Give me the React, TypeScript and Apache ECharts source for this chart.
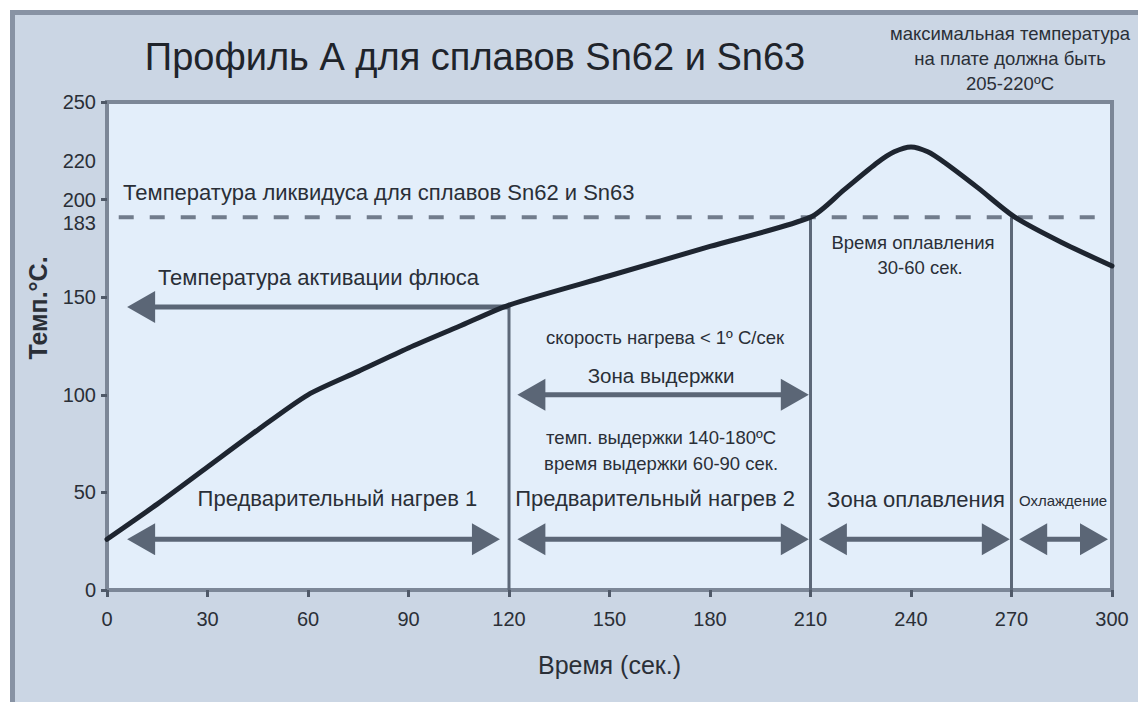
import React, { useEffect, useRef } from 'react';
import * as echarts from 'echarts';

// ---------- data ----------
const xLabelValues = [0, 30, 60, 90, 120, 150, 180, 210, 240, 270, 300];
const yLabelValues = [0, 50, 100, 150, 188, 200, 220, 250];
const yLabelTexts = ['0', '50', '100', '150', '183', '200', '220', '250'];

// temperature profile (time, s -> temperature, °C)
const profileTime = [0, 15, 30, 45, 60, 75, 90, 105, 120, 150, 180, 210, 220, 230, 235, 240, 245, 250, 260, 271, 285, 300];
const profileTemp = [26, 44, 63, 82, 100, 112, 124, 135, 146, 161, 176, 191, 205, 219, 224.5, 227, 224.5, 219, 206, 191, 178, 166];

// zone boundaries
const phaseTimes = [120, 210, 270];
const phaseTopTemps = [146, 191, 191];

// liquidus dashed line (as drawn)
const liquidusLevel = 191;
const liquidusFrom = 3.5;
const liquidusTo = 298;

// arrows
const arrowFrom = [6, 6, 122.5, 122.5, 212.5, 272.3];
const arrowTo = [120, 117.3, 209.5, 209.5, 269.5, 298.8];
const arrowTemp = [145, 26, 26, 100, 26, 26];
const arrowHeads = ['start', 'both', 'both', 'both', 'both', 'both'];

// annotations
const annotationTexts = [
  'Температура ликвидуса для сплавов Sn62 и Sn63',
  'Температура активации флюса',
  'скорость нагрева < 1º С/сек',
  'Зона выдержки',
  'темп. выдержки 140-180ºC',
  'время выдержки 60-90 сек.',
  'Предварительный нагрев 1',
  'Предварительный нагрев 2',
  'Зона оплавления',
  'Охлаждение',
  'Время оплавления',
  '30-60 сек.',
];
const annotationTime = [4.8, 15.2, 166.6, 165.4, 165.4, 165.4, 68.8, 163.6, 241.5, 285.4, 240.6, 242.7];
const annotationTemp = [203.6, 160.3, 129.6, 110, 77.9, 65, 47.1, 47.1, 46.6, 45.6, 178, 165];
const annotationAlign = ['left', 'left', 'center', 'center', 'center', 'center', 'center', 'center', 'center', 'center', 'center', 'center'];
const annotationKind = ['label', 'label', 'note', 'zone', 'note', 'note', 'label', 'label', 'label', 'tight', 'note', 'note'];

const titleText = 'Профиль А для сплавов Sn62 и Sn63';
const cornerNote = 'максимальная температура\nна плате должна быть\n205-220ºC';
const xName = 'Время (сек.)';
const yName = 'Темп.°C.';

// ---------- styles ----------
const FONT = '"Liberation Sans", Arial, Helvetica, sans-serif';
const TEXT = '#2a2f37';
const ARROW = '#5b6676';
const TICK = '#4f5968';
const kindSize: Record<string, number> = { label: 22, note: 18.5, zone: 20.5, tight: 15 };

export default function App() {
  const ref = useRef<HTMLDivElement>(null);

  useEffect(() => {
    if (!ref.current) return;
    const chart = echarts.init(ref.current, null, { renderer: 'svg' });

    const option: any = {
      animation: false,
      backgroundColor: '#ffffff',
      grid: {
        left: 107,
        right: 26,
        top: 102,
        bottom: 112,
        show: true,
        backgroundColor: '#e3eefa',
        borderColor: '#7c8797',
        borderWidth: 4,
      },
      xAxis: {
        type: 'value',
        min: 0,
        max: 300,
        interval: 30,
        name: xName,
        nameLocation: 'middle',
        nameGap: 62,
        nameTextStyle: { fontFamily: FONT, fontSize: 25, color: TEXT },
        axisLine: { show: true, lineStyle: { color: '#7c8797', width: 4 } },
        splitLine: { show: false },
        axisTick: {
          show: true,
          length: 7,
          lineStyle: { color: TICK, width: 3 },
        },
        axisLabel: {
          customValues: xLabelValues,
          margin: 19,
          fontFamily: FONT,
          fontSize: 20,
          color: TEXT,
        },
      },
      yAxis: {
        type: 'value',
        min: 0,
        max: 250,
        interval: 50,
        axisLine: { show: true, lineStyle: { color: '#7c8797', width: 4 } },
        splitLine: { show: false },
        axisTick: {
          show: true,
          length: 6,
          lineStyle: { color: TICK, width: 3 },
        },
        axisLabel: {
          customValues: yLabelValues,
          margin: 11,
          fontFamily: FONT,
          fontSize: 20,
          color: TEXT,
          formatter: (v: number) => {
            const i = yLabelValues.indexOf(v);
            return i >= 0 ? yLabelTexts[i] : '';
          },
        },
      },
      graphic: [
        {
          type: 'rect',
          z: -10,
          silent: true,
          shape: { x: 12.5, y: 12.5, width: 1300, height: 900 },
          style: { fill: '#cbd6e4', stroke: '#8893a4', lineWidth: 5 },
        },
        {
          type: 'text',
          z: 100,
          x: 475,
          y: 57,
          style: {
            text: titleText,
            fontFamily: FONT,
            fontSize: 38,
            fill: '#1f242b',
            align: 'center',
            verticalAlign: 'middle',
          },
        },
        {
          type: 'text',
          z: 100,
          x: 1010,
          y: 58,
          style: {
            text: cornerNote,
            fontFamily: FONT,
            fontSize: 18.5,
            lineHeight: 25,
            fill: TEXT,
            align: 'center',
            verticalAlign: 'middle',
          },
        },
        {
          type: 'text',
          z: 100,
          x: 38,
          y: 308,
          rotation: Math.PI / 2,
          style: {
            text: yName,
            fontFamily: FONT,
            fontSize: 25,
            fontWeight: 'bold',
            fill: TEXT,
            align: 'center',
            verticalAlign: 'middle',
          },
        },
      ],
      series: [
        {
          type: 'custom',
          name: 'liquidus',
          z: 2,
          silent: true,
          clip: false,
          data: [[liquidusFrom, liquidusTo, liquidusLevel]],
          renderItem: (params: any, api: any) => {
            const a = api.coord([api.value(0), api.value(2)]);
            const b = api.coord([api.value(1), api.value(2)]);
            return {
              type: 'line',
              shape: { x1: a[0], y1: a[1], x2: b[0], y2: b[1] },
              style: { stroke: '#717c8c', lineWidth: 4, lineDash: [15, 16] },
            };
          },
        },
        {
          type: 'custom',
          name: 'phases',
          z: 3,
          silent: true,
          clip: false,
          data: phaseTimes.map((t, i) => [t, phaseTopTemps[i]]),
          renderItem: (params: any, api: any) => {
            const a = api.coord([api.value(0), api.value(1)]);
            const b = api.coord([api.value(0), 0]);
            return {
              type: 'line',
              shape: { x1: a[0], y1: a[1], x2: b[0], y2: b[1] },
              style: { stroke: '#5d6878', lineWidth: 3 },
            };
          },
        },
        {
          type: 'custom',
          name: 'arrows',
          z: 4,
          silent: true,
          clip: false,
          data: arrowFrom.map((f, i) => [f, arrowTo[i], arrowTemp[i]]),
          renderItem: (params: any, api: any) => {
            const i = params.dataIndex;
            const a = api.coord([api.value(0), api.value(2)]);
            const b = api.coord([api.value(1), api.value(2)]);
            const head = arrowHeads[i];
            const L = 28;
            const W = 16;
            const sh = head === 'start' || head === 'both';
            const eh = head === 'end' || head === 'both';
            const children: any[] = [
              {
                type: 'line',
                shape: { x1: a[0] + (sh ? L - 4 : 0), y1: a[1], x2: b[0] - (eh ? L - 4 : 0), y2: b[1] },
                style: { stroke: ARROW, lineWidth: 5 },
              },
            ];
            if (sh) {
              children.push({
                type: 'polygon',
                shape: { points: [[a[0], a[1]], [a[0] + L, a[1] - W], [a[0] + L, a[1] + W]] },
                style: { fill: ARROW },
              });
            }
            if (eh) {
              children.push({
                type: 'polygon',
                shape: { points: [[b[0], b[1]], [b[0] - L, b[1] - W], [b[0] - L, b[1] + W]] },
                style: { fill: ARROW },
              });
            }
            return { type: 'group', children };
          },
        },
        {
          type: 'line',
          name: 'profile',
          z: 6,
          silent: true,
          showSymbol: false,
          smooth: 0.25,
          data: profileTime.map((t, i) => [t, profileTemp[i]]),
          lineStyle: { color: '#1e2530', width: 5, cap: 'round', join: 'round' },
        },
        {
          type: 'custom',
          name: 'annotations',
          z: 8,
          silent: true,
          clip: false,
          data: annotationTime.map((t, i) => [t, annotationTemp[i]]),
          renderItem: (params: any, api: any) => {
            const i = params.dataIndex;
            const p = api.coord([api.value(0), api.value(1)]);
            return {
              type: 'text',
              x: p[0],
              y: p[1],
              style: {
                text: annotationTexts[i],
                fontFamily: FONT,
                fontSize: kindSize[annotationKind[i]],
                fill: TEXT,
                align: annotationAlign[i],
                verticalAlign: 'middle',
              },
            };
          },
        },
      ],
    };

    chart.setOption(option);
    return () => chart.dispose();
  }, []);

  return (
    <div
      ref={ref}
      style={{ position: 'fixed', left: 0, top: 0, width: 1138, height: 702 }}
    />
  );
}
